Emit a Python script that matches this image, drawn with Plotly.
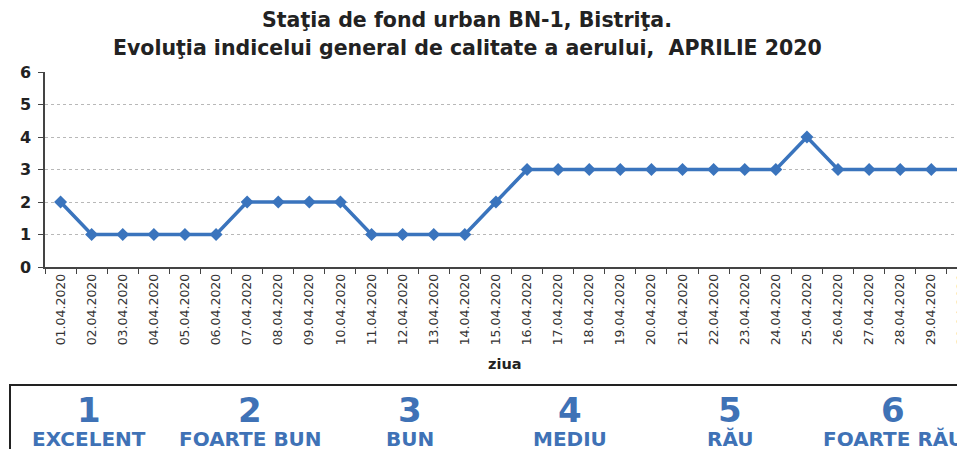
import plotly.graph_objects as go

# zilele lunii si indicele general de calitate a aerului
zile = ["%02d.04.2020" % d for d in range(1, 31)]
indice = [2, 1, 1, 1, 1, 1, 2, 2, 2, 2,
          1, 1, 1, 1, 2, 3, 3, 3, 3, 3,
          3, 3, 3, 3, 4, 3, 3, 3, 3, 3]

# legenda de sub grafic
clase = ["1", "2", "3", "4", "5", "6"]
clase_text = ["EXCELENT", "FOARTE BUN", "BUN", "MEDIU", "RĂU", "FOARTE RĂU"]

W, H = 965, 449
OFF = 8  # marginea implicita a paginii (body margin)
L, T, B = 37, 64, 190
plot_w = W - L
plot_h = H - T - B
FONT = "DejaVu Sans"
ALBASTRU = "#3f72b6"

# coordonate masurate pe imagine -> coordonate paper
def px_x(p):
    return (p - OFF - L) / plot_w

def px_y(p):
    return (H - B - (p - OFF)) / plot_h

fig = go.Figure()
fig.add_trace(go.Scatter(
    x=zile, y=indice, mode="lines+markers",
    line=dict(color="#3a74bd", width=3.5),
    marker=dict(symbol="diamond", size=10, color="#3a74bd"),
    cliponaxis=False, showlegend=False))

fig.update_layout(
    width=W, height=H,
    margin=dict(l=L, r=0, t=T, b=B, autoexpand=False),
    paper_bgcolor="white", plot_bgcolor="white",
    font=dict(family=FONT, color="#222"),
)

fig.update_xaxes(
    type="category", range=[-0.5, 29.34], automargin=False,
    tickangle=-90, tickfont=dict(size=12.5, color="#333", family=FONT),
    showline=True, linecolor="#444", linewidth=1.5,
    ticks="outside", ticklen=5, tickcolor="#444", tickson="boundaries",
    showgrid=False)

fig.update_yaxes(
    range=[0, 6], dtick=1, automargin=False,
    tickfont=dict(size=16, color="#222", family=FONT),
    showline=True, linecolor="#444", linewidth=1.5,
    ticks="outside", ticklen=5, tickcolor="#444", ticklabelstandoff=4,
    showgrid=True, gridcolor="#b8b8b8", griddash="dot", gridwidth=1,
    zeroline=False, tickprefix="<b>", ticksuffix="</b>")

# titlul pe doua randuri
titlu = ["Staţia de fond urban BN-1, Bistriţa.",
         "Evoluţia indicelui general de calitate a aerului,  APRILIE 2020"]
for ty, tt in zip([20, 48], titlu):
    fig.add_annotation(text="<b>%s</b>" % tt, x=px_x(467), y=px_y(ty),
                       xref="paper", yref="paper", showarrow=False,
                       xanchor="center", yanchor="middle",
                       font=dict(size=20.5, color="#222", family=FONT))

# titlul axei x
fig.add_annotation(text="<b>ziua</b>", x=px_x(505), y=px_y(364),
                   xref="paper", yref="paper", showarrow=False,
                   xanchor="center", yanchor="middle",
                   font=dict(size=14.5, color="#222", family=FONT))

# chenarul legendei
fig.add_shape(type="rect", xref="paper", yref="paper",
              x0=px_x(10), x1=px_x(990), y0=px_y(385), y1=px_y(470),
              line=dict(color="#222", width=2), fillcolor="rgba(0,0,0,0)")

pozitii = [89, 250, 410, 570, 730, 893]
for xp, c, t in zip(pozitii, clase, clase_text):
    fig.add_annotation(text="<b>%s</b>" % c, x=px_x(xp), y=px_y(410),
                       xref="paper", yref="paper", showarrow=False,
                       xanchor="center", yanchor="middle",
                       font=dict(size=34, color=ALBASTRU, family=FONT))
    fig.add_annotation(text="<b>%s</b>" % t, x=px_x(xp), y=px_y(439),
                       xref="paper", yref="paper", showarrow=False,
                       xanchor="center", yanchor="middle",
                       font=dict(size=20, color=ALBASTRU, family=FONT))

fig.write_html("out.html")
